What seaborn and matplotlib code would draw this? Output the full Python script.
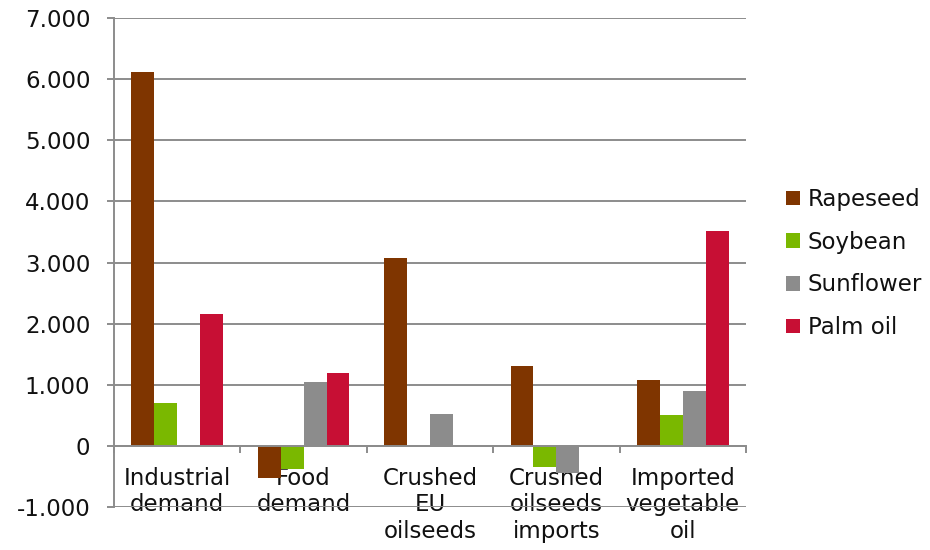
import numpy as np
import pandas as pd
import matplotlib
matplotlib.use("Agg")
import matplotlib.pyplot as plt
import seaborn as sns
from matplotlib.ticker import FixedLocator, FuncFormatter

categories = ["Industrial\ndemand", "Food\ndemand", "Crushed\nEU\noilseeds",
              "Crushed\noilseeds\nimports", "Imported\nvegetable\noil"]
series = ["Rapeseed", "Soybean", "Sunflower", "Palm oil"]
rapeseed = [6110, -520, 3080, 1310, 1085]
soybean = [695, -385, 0, -340, 510]
sunflower = [0, 1040, 525, -440, 905]
palm_oil = [2165, 1195, 0, 0, 3515]
colors = ["#7F3500", "#7AB800", "#8C8C8C", "#C70F34"]
yticks = [-1000, 0, 1000, 2000, 3000, 4000, 5000, 6000, 7000]

rows = []
for s, vals in zip(series, [rapeseed, soybean, sunflower, palm_oil]):
    for c, v in zip(categories, vals):
        rows.append({"category": c, "series": s, "value": v})
df = pd.DataFrame(rows)

sns.set_theme(style="white")
plt.rcParams["font.family"] = ["DejaVu Sans"]

fig = plt.figure(figsize=(9.3, 5.5), dpi=100)
ax = fig.add_axes([114/930, 1-507/550, (746-114)/930, (507-18)/550])

sns.barplot(data=df, x="category", y="value", hue="series", order=categories,
            hue_order=series, palette=colors, width=0.725, saturation=1,
            linewidth=0, ax=ax, zorder=3)

ax.set_ylim(-1000, 7000)
ax.set_xlim(-0.5, len(categories) - 0.5)
ax.yaxis.set_major_locator(FixedLocator(yticks))
ax.yaxis.set_major_formatter(FuncFormatter(lambda v, p: f"{int(v):,}".replace(",", ".")))
grid_c = "#8C8C8C"
for y in yticks:
    ax.axhline(y, color=grid_c, lw=1.4, zorder=1)

for s in ["top", "right"]:
    ax.spines[s].set_visible(False)
ax.spines["left"].set_color(grid_c)
ax.spines["left"].set_linewidth(1.4)
ax.spines["bottom"].set_position(("data", 0))
ax.spines["bottom"].set_color(grid_c)
ax.spines["bottom"].set_linewidth(1.4)
ax.spines["bottom"].set_zorder(4)

txt_c = "#111111"
ax.tick_params(axis="y", which="major", length=5, width=1.4, color=grid_c,
               direction="out", pad=12, labelsize=16.5, labelcolor=txt_c, left=True)
ax.set_xticks(range(len(categories)))
ax.set_xticklabels(categories, fontsize=16.5, color=txt_c, linespacing=1.2)
ax.tick_params(axis="x", which="major", length=0, pad=15, bottom=True)
ax.set_xticks(np.arange(-0.5, len(categories)), minor=True)
ax.tick_params(axis="x", which="minor", length=5, width=1.4, color=grid_c,
               direction="out", bottom=True)
ax.set_xlabel("")
ax.set_ylabel("")

handles, labels = ax.get_legend_handles_labels()
ax.legend(handles, labels, loc="upper left", bbox_to_anchor=(786/930, 1-188/550),
          bbox_transform=fig.transFigure, frameon=False, fontsize=16.5,
          handlelength=0.6, handleheight=0.6, handletextpad=0.35,
          labelspacing=0.86, borderaxespad=0, borderpad=0, labelcolor=txt_c)

fig.savefig("out.png", dpi=100)
